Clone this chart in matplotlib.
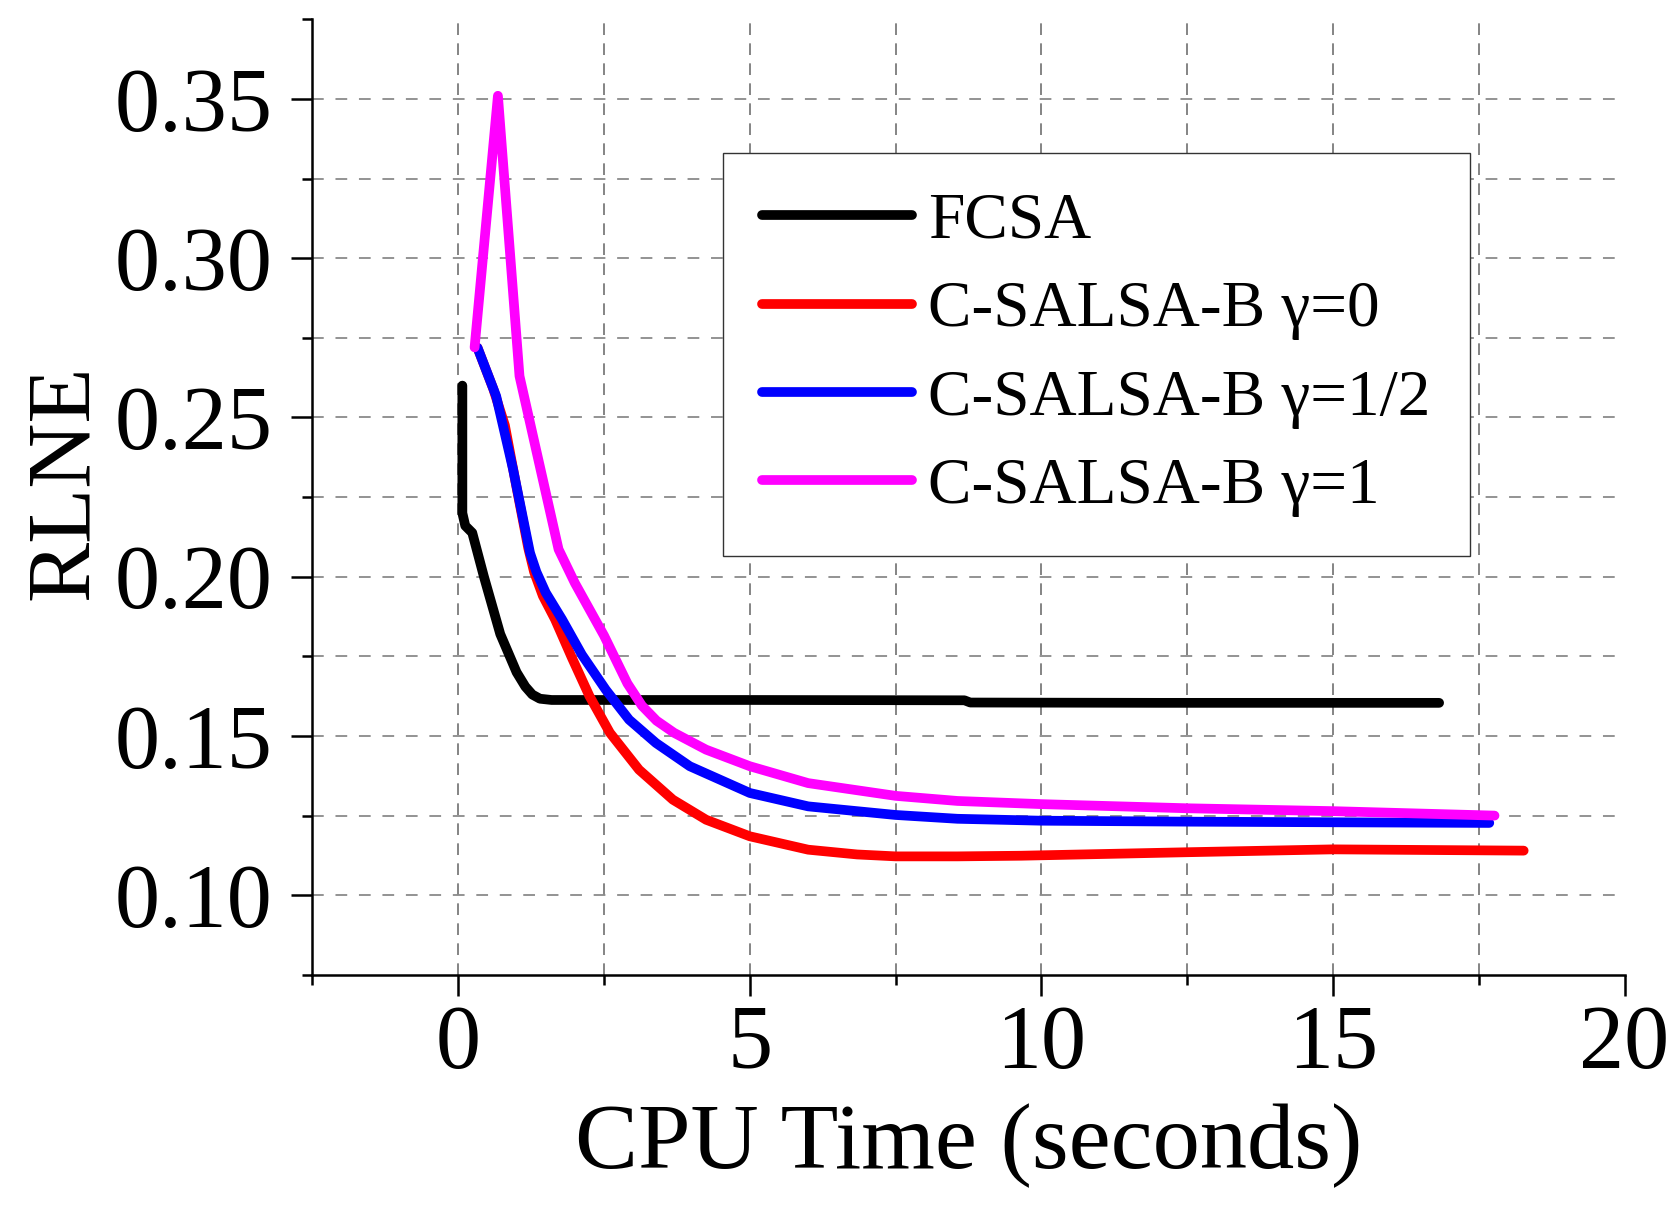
import numpy as np
import matplotlib.pyplot as plt
from matplotlib.ticker import MultipleLocator, FormatStrFormatter

plt.rcParams['font.family'] = ['Liberation Serif', 'DejaVu Serif']

# FCSA
fcsa_t = [0.07, 0.07, 0.12, 0.24, 0.44, 0.72, 1.0, 1.15, 1.27, 1.4, 1.6, 5.0, 8.68, 8.78, 12.0, 16.82]
fcsa_e = [0.260, 0.220, 0.216, 0.2138, 0.200, 0.182, 0.170, 0.1655, 0.1630, 0.1617, 0.1613,
          0.1613, 0.1612, 0.1605, 0.1604, 0.1604]

# C-SALSA-B, gamma = 0
g0_t = [0.33, 0.6, 0.8, 1.0, 1.2, 1.3, 1.45, 1.66, 1.95, 2.25, 2.6, 3.1, 3.68, 4.25, 5.0, 6.0,
        6.84, 7.5, 8.56, 9.65, 12.5, 15.0, 18.27]
g0_e = [0.2719, 0.259, 0.2475, 0.228, 0.209, 0.2015, 0.194, 0.1866, 0.1745, 0.1625, 0.151,
        0.1394, 0.130, 0.1237, 0.1185, 0.1143, 0.1128, 0.1122, 0.1122, 0.1124, 0.1135, 0.1144,
        0.114]

# C-SALSA-B, gamma = 1/2
g05_t = [0.33, 0.65, 0.94, 1.23, 1.34, 1.5, 1.78, 2.12, 2.53, 2.93, 3.39, 3.97, 5.0, 6.0, 7.5,
         8.56, 10.0, 12.5, 15.0, 17.68]
g05_e = [0.2719, 0.2567, 0.2337, 0.2075, 0.2015, 0.195, 0.1866, 0.1755, 0.1645, 0.1551, 0.1478,
         0.1405, 0.1321, 0.1279, 0.1252, 0.1240, 0.1234, 0.1231, 0.1229, 0.1227]

# C-SALSA-B, gamma = 1
g1_t = [0.28, 0.68, 1.05, 1.72, 2.0, 2.5, 2.9, 3.15, 3.4, 3.7, 4.25, 5.0, 6.0, 7.5, 8.56, 10.0,
        12.5, 15.0, 17.77]
g1_e = [0.272, 0.351, 0.263, 0.2086, 0.198, 0.1815, 0.1665, 0.1595, 0.1548, 0.151, 0.1457,
        0.1405, 0.1352, 0.1312, 0.1296, 0.1286, 0.1273, 0.1264, 0.125]

labels = ['FCSA', 'C-SALSA-B γ=0', 'C-SALSA-B γ=1/2', 'C-SALSA-B γ=1']
colors = ['black', '#ff0000', '#0000ff', '#ff00ff']

fig = plt.figure(figsize=(16.8, 12.08), dpi=100)
ax = fig.add_axes([0.186, 0.193, 0.781, 0.791])

# dashed grid, drawn by hand so the edges stay clear
for gx in np.arange(0, 19, 2.5):
    ax.axvline(gx, color='#707070', lw=1.2, ls=(0, (7, 5)), zorder=0)
for gy in np.arange(0.1, 0.36, 0.025):
    ax.axhline(gy, xmax=0.995, color='#8a8a8a', lw=1.3, ls=(0, (6.5, 6.5)), zorder=0)

series = [(fcsa_t, fcsa_e), (g0_t, g0_e), (g05_t, g05_e), (g1_t, g1_e)]
for (t, e), lab, c in zip(series, labels, colors):
    ax.plot(t, e, color=c, lw=7, label=lab, solid_capstyle='round', solid_joinstyle='round')

ax.set_xlim(-2.5, 20)
ax.set_ylim(0.075, 0.375)
ax.xaxis.set_major_locator(MultipleLocator(5))
ax.xaxis.set_minor_locator(MultipleLocator(2.5))
ax.yaxis.set_major_locator(MultipleLocator(0.05))
ax.yaxis.set_minor_locator(MultipleLocator(0.025))
ax.yaxis.set_major_formatter(FormatStrFormatter('%.2f'))

ax.spines['top'].set_visible(False)
ax.spines['right'].set_visible(False)
for s in ['left', 'bottom']:
    ax.spines[s].set_linewidth(1.8)

ax.tick_params(which='major', length=15, width=1.8, labelsize=65, direction='out')
ax.tick_params(which='minor', length=7, width=1.8, direction='out')
ax.tick_params(axis='y', which='major', pad=14)
ax.tick_params(axis='x', which='major', pad=6)

ax.set_xlabel('CPU Time (seconds)', fontsize=68, labelpad=12)
ax.set_ylabel('RLNE', fontsize=65)
ax.yaxis.set_label_coords(-0.157, 0.516)

leg = ax.legend(loc='upper left', bbox_to_anchor=(0.3127, 0.860), borderaxespad=0,
                fontsize=47, handlelength=2.3, handletextpad=0.25, labelspacing=0.44,
                borderpad=0.6, fancybox=False, framealpha=1)
leg.get_frame().set_edgecolor('#333333')
leg.get_frame().set_linewidth(1.0)

plt.savefig('out.png', dpi=100)
